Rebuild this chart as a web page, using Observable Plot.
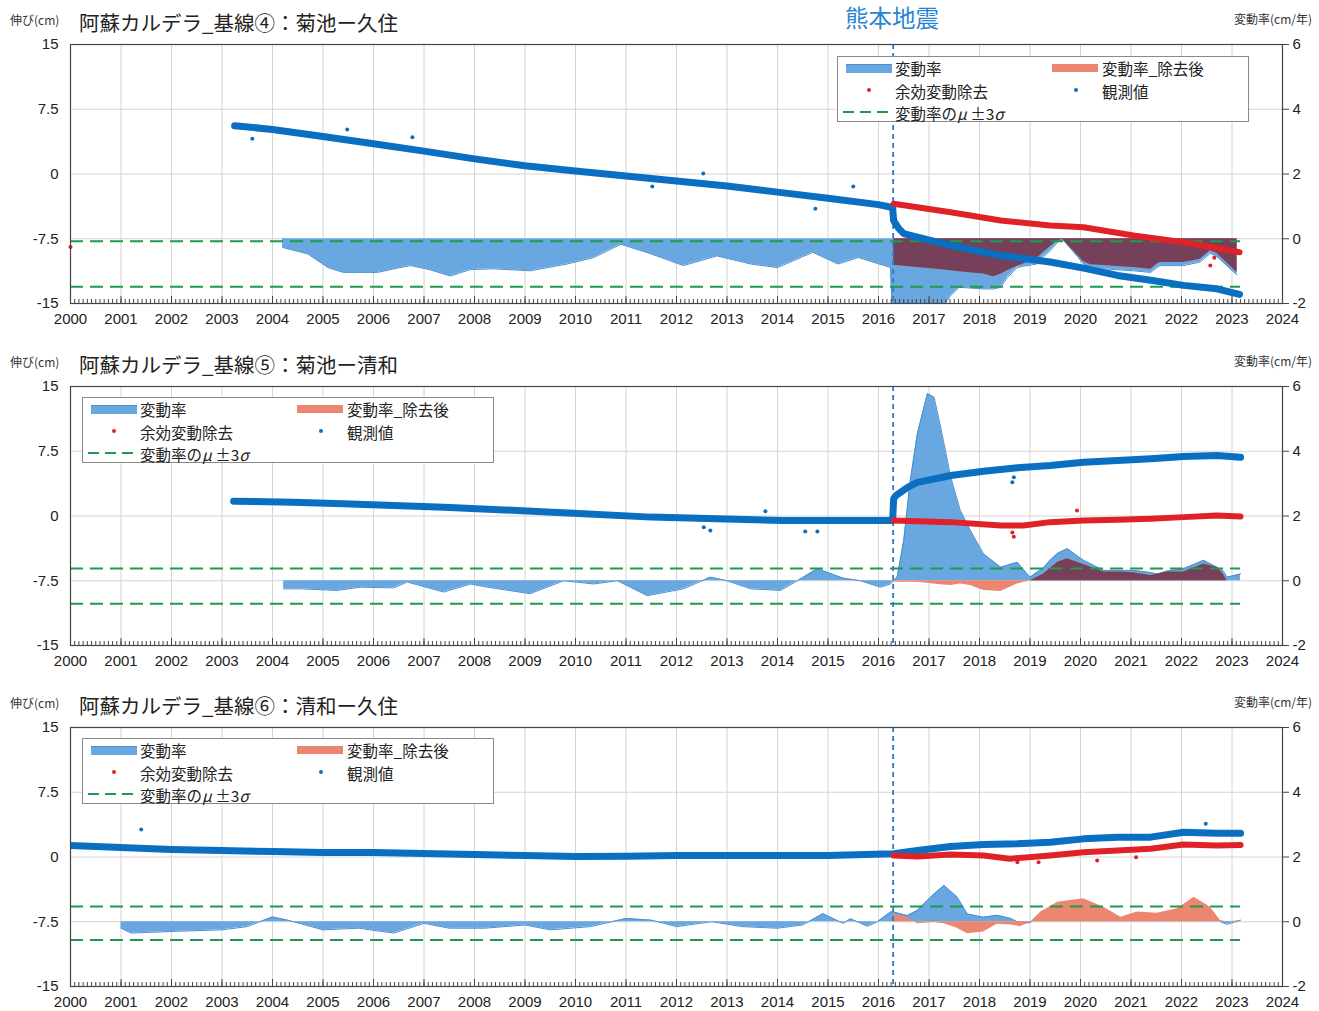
<!DOCTYPE html>
<html><head><meta charset="utf-8">
<script src="https://cdn.jsdelivr.net/npm/d3@7"></script>
<script src="https://cdn.jsdelivr.net/npm/@observablehq/plot@0.6"></script>
<style>
body{margin:0;background:#fff;width:1319px;height:1011px;position:relative;overflow:hidden;font-family:"Noto Sans CJK JP","Noto Sans",sans-serif;color:#222;}
.abs{position:absolute;white-space:nowrap;}
.ttl{font-size:20.5px;line-height:24px;height:24px;color:#222;}
.unit{font-size:12px;line-height:14px;height:14px;color:#333;}
.eq{font-size:23.5px;line-height:26px;height:26px;color:#2a84d2;}
.legend{position:absolute;width:412px;height:66px;border:1px solid #8a8a8a;background:#fff;box-sizing:border-box;}
.legend .lt{position:absolute;display:block;font-size:15.5px;line-height:20px;height:20px;white-space:nowrap;color:#222;}
.legend .sw{position:absolute;height:8px;width:46px;}
.legend .dt{position:absolute;width:4px;height:4px;border-radius:2px;}
.legend svg{position:absolute;}
.plotbox{position:absolute;left:0;}
</style></head><body>
<script>
// ---------------- shared axis values ----------------
const yearTicks = d3.range(2000, 2025);
const monthTicks = d3.range(0, 24 * 12 + 1).map(i => 2000 + i / 12);
const leftTicks = [-15, -7.5, 0, 7.5, 15];
const earthquakeYear = 2016.29;
const sigmaStart = 2000;
const sigmaEnd = 2023.17;

// ---------------- Panel 1 : 基線④ 菊池ー久住 ----------------
const p1Title = "阿蘇カルデラ_基線④：菊池ー久住";
const p1ObsYears = [2003.25, 2004, 2005, 2006, 2007, 2008, 2009, 2010, 2011, 2012, 2013, 2014, 2015, 2016, 2016.28,
  2016.3, 2016.4, 2016.5, 2016.77, 2017.43, 2018.42, 2019.4, 2020.06, 2020.73, 2021.39, 2022.04, 2022.7, 2023.15];
const p1ObsCm = [5.6, 5.15, 4.35, 3.5, 2.65, 1.75, 0.95, 0.35, -0.22, -0.8, -1.4, -2.1, -2.8, -3.55, -3.88,
  -5.4, -6.3, -6.9, -7.3, -8.28, -9.45, -10.2, -10.9, -11.75, -12.3, -12.9, -13.3, -13.95];
const p1RemYears = [2016.3, 2017.43, 2018.42, 2019.4, 2020.06, 2021.05, 2022.04, 2023.15];
const p1RemCm = [-3.45, -4.42, -5.39, -5.97, -6.16, -7.12, -7.9, -9.06];
const p1ObsOutYears = [2003.6, 2005.48, 2006.77, 2011.52, 2012.53, 2014.75, 2015.5];
const p1ObsOutCm = [4.07, 5.15, 4.27, -1.45, 0.06, -4.03, -1.45];
const p1RemOutYears = [2000.0, 2022.57, 2022.65];
const p1RemOutCm = [-8.45, -10.6, -9.7];
const p1RatePreYears = [2004.2, 2004.7, 2005.1, 2005.4, 2006.08, 2006.5, 2006.73, 2007.1, 2007.52, 2007.92, 2008.37, 2009.1,
  2009.84, 2010.36, 2010.9, 2011.5, 2012.14, 2012.8, 2013.47, 2014.0, 2014.7, 2015.2, 2015.6, 2016.24];
const p1RatePre = [-0.27, -0.47, -0.89, -1.04, -1.04, -0.9, -0.83, -0.95, -1.15, -0.95, -0.93, -0.99,
  -0.78, -0.58, -0.17, -0.47, -0.83, -0.53, -0.78, -0.89, -0.42, -0.78, -0.58, -0.89];
const p1PostYears = [2016.3, 2016.35, 2016.77, 2017.2, 2017.43, 2017.6, 2018.08, 2018.28, 2018.42, 2018.55, 2018.75, 2018.87,
  2019.14, 2019.27, 2019.4, 2019.55, 2019.65, 2019.7, 2019.94, 2020.06, 2020.2, 2020.46, 2020.73, 2021.05, 2021.39,
  2021.52, 2021.58, 2022.04, 2022.37, 2022.57, 2022.7, 2023.1];
const p1PostRate = [-3.5, -3.6, -3.0, -2.3, -1.75, -1.5, -1.55, -1.55, -1.5, -1.2, -0.89, -0.85,
  -0.78, -0.55, -0.37, -0.1, -0.02, -0.12, -0.55, -0.78, -0.89, -0.93, -0.96, -0.99, -1.04,
  -0.88, -0.83, -0.83, -0.72, -0.45, -0.55, -1.12];
const p1PostRateRem = [-0.83, -0.83, -0.89, -0.95, -0.99, -1.02, -1.09, -1.17, -1.1, -0.99, -0.85, -0.78,
  -0.6, -0.42, -0.25, -0.06, -0.02, -0.11, -0.5, -0.7, -0.8, -0.83, -0.86, -0.89, -0.94,
  -0.78, -0.73, -0.73, -0.63, -0.37, -0.45, -1.04];
const p1Sigma = [-0.08, -1.48];

// ---------------- Panel 2 : 基線⑤ 菊池ー清和 ----------------
const p2Title = "阿蘇カルデラ_基線⑤：菊池ー清和";
const p2ObsYears = [2003.23, 2004.4, 2005.4, 2006.4, 2007.4, 2008.85, 2010.16, 2011.5, 2012.8, 2014.1, 2015.45, 2016.28,
  2016.3, 2016.35, 2016.57, 2016.77, 2017.43, 2018.08, 2018.75, 2019.4, 2020.06, 2020.73, 2021.39, 2022.04, 2022.7, 2023.17];
const p2ObsCm = [1.71, 1.6, 1.41, 1.22, 1.02, 0.64, 0.25, -0.13, -0.32, -0.52, -0.52, -0.52,
  2.0, 2.4, 3.3, 3.9, 4.69, 5.19, 5.58, 5.85, 6.23, 6.43, 6.62, 6.89, 7.0, 6.81];
const p2RemYears = [2016.3, 2017.43, 2018.42, 2018.87, 2019.4, 2020.06, 2020.73, 2021.39, 2022.04, 2022.7, 2023.17];
const p2RemCm = [-0.52, -0.71, -1.1, -1.1, -0.71, -0.52, -0.44, -0.32, -0.13, 0.06, -0.05];
const p2ObsOutYears = [2012.54, 2012.67, 2013.76, 2014.55, 2014.79, 2018.65, 2018.68];
const p2ObsOutCm = [-1.3, -1.68, 0.56, -1.8, -1.8, 3.92, 4.5];
const p2RemOutYears = [2018.65, 2018.68, 2019.93];
const p2RemOutCm = [-1.9, -2.4, 0.64];
const p2RatePreYears = [2004.22, 2004.55, 2005.28, 2005.74, 2006.4, 2006.67, 2007.39, 2007.92, 2008.18, 2009.1, 2009.77,
  2010.36, 2010.83, 2011.42, 2012.14, 2012.67, 2013.0, 2013.47, 2014.06, 2014.46, 2014.79, 2015.3, 2015.64, 2016.04, 2016.24];
const p2RatePre = [-0.25, -0.25, -0.3, -0.2, -0.22, -0.04, -0.35, -0.1, -0.18, -0.4, 0,
  -0.1, 0, -0.46, -0.25, 0.11, 0, -0.25, -0.3, 0.06, 0.37, 0.08, 0, -0.2, -0.1];
const p2PostYears = [2016.3, 2016.37, 2016.5, 2016.63, 2016.77, 2016.97, 2017.1, 2017.23, 2017.43, 2017.62, 2017.82,
  2018.08, 2018.42, 2018.75, 2019.0, 2019.27, 2019.4, 2019.55, 2019.74, 2020.06, 2020.46, 2020.8, 2021.05, 2021.39,
  2021.52, 2021.72, 2022.04, 2022.44, 2022.7, 2022.83, 2022.9, 2023.17];
const p2PostRate = [0, 0.11, 1.24, 3.1, 4.54, 5.78, 5.67, 4.75, 3.2, 2.17, 1.55,
  0.83, 0.42, 0.57, 0.11, 0.4, 0.63, 0.85, 0.99, 0.63, 0.32, 0.32, 0.32, 0.25,
  0.21, 0.3, 0.37, 0.63, 0.42, 0.3, 0.11, 0.21];
const p2PostRateRem = [-0.04, -0.05, -0.05, -0.05, -0.05, -0.08, -0.1, -0.12, -0.15, -0.1, -0.15,
  -0.3, -0.33, -0.1, 0, 0.21, 0.38, 0.57, 0.68, 0.5, 0.27, 0.27, 0.25, 0.16,
  0.2, 0.27, 0.27, 0.52, 0.42, 0.2, 0.0, 0.0];
const p2Sigma = [0.38, -0.71];

// ---------------- Panel 3 : 基線⑥ 清和ー久住 ----------------
const p3Title = "阿蘇カルデラ_基線⑥：清和ー久住";
const p3ObsYears = [2000.0, 2001, 2002, 2003, 2004, 2005, 2006, 2007, 2008, 2009, 2010, 2011, 2012, 2013, 2014, 2015,
  2016.3, 2016.77, 2017.43, 2018.08, 2018.75, 2019.4, 2020.06, 2020.73, 2021.39, 2022.04, 2022.7, 2023.17];
const p3ObsCm = [1.33, 1.1, 0.87, 0.75, 0.64, 0.52, 0.52, 0.4, 0.29, 0.17, 0.06, 0.1, 0.17, 0.17, 0.17, 0.17,
  0.37, 0.75, 1.22, 1.45, 1.53, 1.72, 2.1, 2.3, 2.3, 2.87, 2.75, 2.75];
const p3RemYears = [2016.3, 2016.77, 2017.43, 2018.08, 2018.6, 2019.4, 2020.06, 2020.73, 2021.39, 2022.04, 2022.7, 2023.17];
const p3RemCm = [0.17, 0.05, 0.3, 0.17, -0.2, 0.17, 0.56, 0.75, 0.95, 1.45, 1.33, 1.4];
const p3ObsOutYears = [2001.4, 2022.48];
const p3ObsOutCm = [3.18, 3.85];
const p3RemOutYears = [2018.75, 2019.17, 2020.33, 2021.1];
const p3RemOutCm = [-0.6, -0.6, -0.4, -0.02];
const p3RatePreYears = [2001.0, 2001.2, 2002, 2003, 2003.5, 2004.0, 2004.3, 2005, 2005.7, 2006.4, 2007, 2007.5, 2008.2,
  2009, 2009.5, 2010.3, 2011, 2011.5, 2012, 2012.7, 2013.3, 2014, 2014.5, 2014.9, 2015.3, 2015.45, 2015.78, 2015.98, 2016.24];
const p3RatePre = [-0.2, -0.35, -0.3, -0.25, -0.15, 0.15, 0.05, -0.25, -0.2, -0.35, -0.05, -0.2, -0.2,
  -0.1, -0.25, -0.15, 0.1, 0.05, -0.15, 0, -0.15, -0.2, -0.1, 0.25, -0.05, 0.09, -0.14, 0, 0.3];
const p3PostYears = [2016.3, 2016.57, 2016.77, 2017.1, 2017.3, 2017.56, 2017.76, 2018.08, 2018.35, 2018.62, 2018.82,
  2019.02, 2019.22, 2019.55, 2020.06, 2020.46, 2020.8, 2021.12, 2021.52, 2021.92, 2022.25, 2022.57, 2022.77, 2022.9, 2023.17];
const p3PostRate = [0.3, 0.19, 0.35, 0.86, 1.12, 0.76, 0.24, 0.14, 0.2, 0.1, -0.06,
  -0.02, 0.3, 0.55, 0.65, 0.4, 0.1, 0.25, 0.2, 0.35, 0.7, 0.4, 0.0, -0.08, 0.05];
const p3PostRateRem = [0.24, 0.14, -0.06, -0.02, -0.06, -0.2, -0.37, -0.32, -0.08, -0.1, -0.15,
  0.0, 0.3, 0.6, 0.71, 0.45, 0.14, 0.3, 0.26, 0.4, 0.76, 0.45, 0.04, 0.0, 0.03];
const p3Sigma = [0.47, -0.56];

// ---------------- styling ----------------
const BLUE_OBS = "#0b6fc1", RED_OBS = "#e02128";
const RATE_BLUE = "#68a7e0", RATE_BLUE_EDGE = "#4b8fd2";
const RATE_RED = "#ec8670", OVERLAP = "#763f5a";
const GREEN = "#1f9a4f", EQ = "#2a7cc7";
const plotH = 259, mTop = 10, mBottom = 32, mLeft = 70, mRight = 37;

// right axis (cm/年) -> left axis (cm): 0 cm/年 at -7.5 cm, 2 cm/年 = 7.5 cm
const toCm = r => -7.5 + r * 3.75;
const toRate = c => (c + 7.5) / 3.75;

const zip = (xs, ys, k = "y") => xs.map((x, i) => ({x, [k]: ys[i]}));

const panels = [
  {title: p1Title, top: 44, obsYears: p1ObsYears, obsCm: p1ObsCm, remYears: p1RemYears, remCm: p1RemCm,
   obsOutYears: p1ObsOutYears, obsOutCm: p1ObsOutCm, remOutYears: p1RemOutYears, remOutCm: p1RemOutCm,
   ratePreYears: p1RatePreYears, ratePre: p1RatePre, postYears: p1PostYears, postRate: p1PostRate,
   postRateRem: p1PostRateRem, sigma: p1Sigma, darkOverlap: true, legend: [837, 56], eqLabel: true},
  {title: p2Title, top: 386, obsYears: p2ObsYears, obsCm: p2ObsCm, remYears: p2RemYears, remCm: p2RemCm,
   obsOutYears: p2ObsOutYears, obsOutCm: p2ObsOutCm, remOutYears: p2RemOutYears, remOutCm: p2RemOutCm,
   ratePreYears: p2RatePreYears, ratePre: p2RatePre, postYears: p2PostYears, postRate: p2PostRate,
   postRateRem: p2PostRateRem, sigma: p2Sigma, darkOverlap: true, legend: [82, 397]},
  {title: p3Title, top: 727, obsYears: p3ObsYears, obsCm: p3ObsCm, remYears: p3RemYears, remCm: p3RemCm,
   obsOutYears: p3ObsOutYears, obsOutCm: p3ObsOutCm, remOutYears: p3RemOutYears, remOutCm: p3RemOutCm,
   ratePreYears: p3RatePreYears, ratePre: p3RatePre, postYears: p3PostYears, postRate: p3PostRate,
   postRateRem: p3PostRateRem, sigma: p3Sigma, darkOverlap: false, legend: [82, 738]}
];

function legendHTML(left, top) {
  return `<div class="legend" style="left:${left}px;top:${top}px">
    <div class="sw" style="left:8px;top:7px;background:${RATE_BLUE};border-top:1px solid ${RATE_BLUE_EDGE}"></div>
    <span class="lt" style="left:57px;top:1px">変動率</span>
    <div class="sw" style="left:214px;top:7px;background:${RATE_RED}"></div>
    <span class="lt" style="left:264px;top:1px">変動率_除去後</span>
    <div class="dt" style="left:29px;top:31px;background:${RED_OBS}"></div>
    <span class="lt" style="left:57px;top:23.5px">余効変動除去</span>
    <div class="dt" style="left:236px;top:31px;background:${BLUE_OBS}"></div>
    <span class="lt" style="left:264px;top:23.5px">観測値</span>
    <svg style="left:4px;top:50px" width="52" height="10"><line x1="1" y1="5" x2="51" y2="5" stroke="${GREEN}" stroke-width="2" stroke-dasharray="11,6"/></svg>
    <span class="lt" style="left:57px;top:46px">変動率の<i>μ</i> ±3<i>σ</i></span>
  </div>`;
}

function drawPanel(cfg) {
  const obs = zip(cfg.obsYears, cfg.obsCm);
  const rem = zip(cfg.remYears, cfg.remCm);
  const obsOut = zip(cfg.obsOutYears, cfg.obsOutCm);
  const remOut = zip(cfg.remOutYears, cfg.remOutCm);
  const rateBlue = [...zip(cfg.ratePreYears, cfg.ratePre, "r"), ...zip(cfg.postYears, cfg.postRate, "r")];
  const rateRed = zip(cfg.postYears, cfg.postRateRem, "r");
  const overlap = cfg.postYears.map((x, i) => {
    const b = cfg.postRate[i], r = cfg.postRateRem[i];
    return {x, r: (b * r > 0 && Math.abs(b) >= Math.abs(r)) ? r : 0};
  });

  const marks = [
    Plot.gridX(yearTicks, {stroke: "#d4d4d4", strokeOpacity: 1}),
    Plot.gridY(leftTicks, {stroke: "#d4d4d4", strokeOpacity: 1}),
    Plot.areaY(rateBlue, {x: "x", y1: () => toCm(0), y2: d => toCm(d.r), fill: RATE_BLUE, clip: true}),
    Plot.lineY(rateBlue, {x: "x", y: d => toCm(d.r), stroke: RATE_BLUE_EDGE, strokeWidth: 1, clip: true}),
    Plot.areaY(rateRed, {x: "x", y1: () => toCm(0), y2: d => toCm(d.r), fill: RATE_RED, clip: true})
  ];
  if (cfg.darkOverlap) {
    marks.push(Plot.areaY(overlap, {x: "x", y1: () => toCm(0), y2: d => toCm(d.r), fill: OVERLAP, clip: true}));
  }
  marks.push(
    Plot.ruleY(cfg.sigma, {y: d => toCm(d), x1: () => sigmaStart, x2: () => sigmaEnd,
      stroke: GREEN, strokeWidth: 2, strokeDasharray: "13,7"}),
    Plot.ruleX([earthquakeYear], {stroke: EQ, strokeWidth: 1.8, strokeDasharray: "5,4"}),
    Plot.line(obs, {x: "x", y: "y", stroke: BLUE_OBS, strokeWidth: 7, clip: true}),
    Plot.dot(obsOut, {x: "x", y: "y", r: 2, fill: BLUE_OBS}),
    Plot.line(rem, {x: "x", y: "y", stroke: RED_OBS, strokeWidth: 6, clip: true}),
    Plot.dot(remOut, {x: "x", y: "y", r: 2, fill: RED_OBS}),
    Plot.frame({stroke: "#444", strokeWidth: 1.2}),
    Plot.tickX(monthTicks, {x: d => d, insetTop: plotH - 4, stroke: "#444"}),
    Plot.tickX(yearTicks, {x: d => d, insetTop: plotH - 7, stroke: "#444"}),
    Plot.axisX({ticks: yearTicks, tickFormat: d => String(d), tickSize: 0, tickPadding: 10, label: null, fontSize: 15}),
    Plot.axisY({anchor: "left", ticks: leftTicks, tickFormat: d => String(d), tickSize: 0, tickPadding: 12, label: null, fontSize: 15}),
    Plot.axisY({anchor: "right", ticks: leftTicks, tickFormat: d => String(toRate(d)), tickSize: 6, tickPadding: 4,
      label: null, fontSize: 15, stroke: "#444"})
  );

  const svg = Plot.plot({
    width: 1319, height: mTop + plotH + mBottom,
    marginTop: mTop, marginBottom: mBottom, marginLeft: mLeft, marginRight: mRight,
    x: {domain: [2000, 2024]},
    y: {domain: [-15, 15]},
    style: {fontFamily: "'Liberation Sans', Arial, sans-serif", fontSize: "15px", color: "#222", background: "transparent", overflow: "visible"},
    marks
  });
  const box = document.createElement("div");
  box.className = "plotbox";
  box.style.top = (cfg.top - mTop) + "px";
  box.appendChild(svg);
  document.body.appendChild(box);

  const t = cfg.top;
  const head = document.createElement("div");
  head.innerHTML = `
    <div class="abs unit" style="left:10px;top:${t - 31}px">伸び(cm)</div>
    <div class="abs ttl" style="left:79px;top:${t - 34}px">${cfg.title}</div>
    <div class="abs unit" style="left:1234px;top:${t - 32}px">変動率(cm/年)</div>
    ${cfg.eqLabel ? `<div class="abs eq" style="left:845px;top:${t - 40}px">熊本地震</div>` : ""}
    ${legendHTML(cfg.legend[0], cfg.legend[1])}`;
  document.body.appendChild(head);
}

panels.forEach(drawPanel);
</script>
</body></html>
